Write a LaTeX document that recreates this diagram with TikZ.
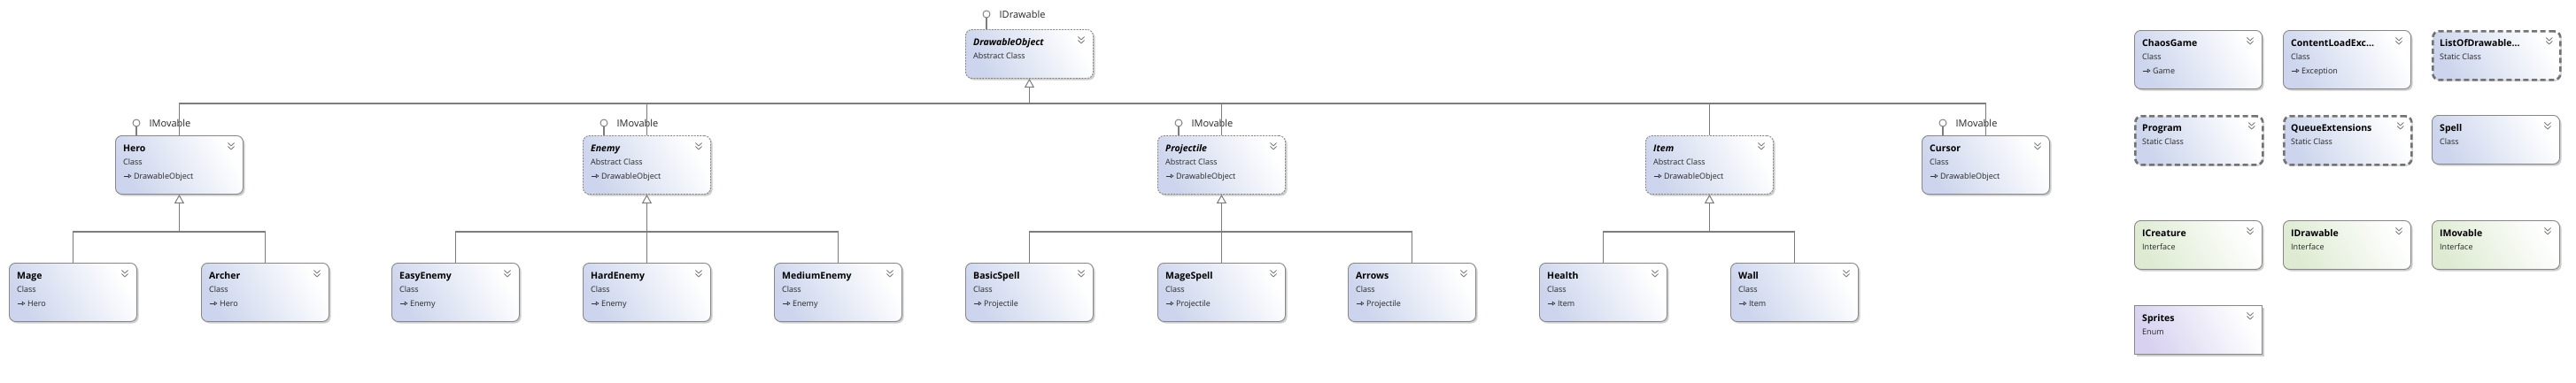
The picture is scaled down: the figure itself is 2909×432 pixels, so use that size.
\documentclass[tikz,border=0pt]{standalone}
\usepackage{fontspec}
\setmainfont{Open Sans}
\usetikzlibrary{arrows.meta}
\definecolor{cblue}{RGB}{204,213,237}
\definecolor{cgreen}{RGB}{222,235,210}
\definecolor{cpurple}{RGB}{216,210,240}
\definecolor{bordc}{RGB}{135,135,135}
\definecolor{linec}{RGB}{125,125,125}
\definecolor{shadc}{RGB}{205,205,205}
\definecolor{chevc}{RGB}{120,120,120}
\tikzset{
  boxbase/.style={rectangle, rounded corners=7pt, draw=bordc, line width=0.9pt,
    minimum width=144pt, inner sep=0pt, anchor=north west,
    top color=white, bottom color=cblue, shading angle=-60},
  classbox/.style={boxbase},
  abstractbox/.style={boxbase, dash pattern=on 2pt off 1.3pt},
  staticbox/.style={boxbase, line width=2.6pt, draw=black!55, dash pattern=on 6pt off 3.6pt},
  ifacebox/.style={boxbase, top color=white, bottom color=cgreen, shading angle=-60},
  enumbox/.style={boxbase, rounded corners=0pt, top color=white, bottom color=cpurple, shading angle=-60},
  roundshadow/.style={fill=shadc, rounded corners=7pt},
  squareshadow/.style={fill=shadc},
  titlef/.style={anchor=base west, inner sep=0pt, font=\fontsize{10.5}{12}\selectfont\bfseries},
  subf/.style={anchor=base west, inner sep=0pt, text=black!85, font=\fontsize{9}{11}\selectfont},
  lolf/.style={anchor=base west, inner sep=0pt, text=black!85, font=\fontsize{11}{13}\selectfont},
  lollic/.style={circle, draw=linec, fill=white, minimum size=8pt, inner sep=0pt, line width=0.9pt},
  chev/.style={draw=chevc, line width=0.8pt},
  gen/.style={draw=linec, line width=1.3pt},
  genarrow/.style={gen, -{Triangle[fill=white, length=10pt, width=11pt, line width=1pt]}},
  inhmark/.style={draw=black!80, line width=0.6pt, -{Triangle[open, length=3.6pt, width=4.6pt, line width=0.6pt]}}
}
\newcommand\inh{\tikz[baseline=-3pt]{\draw[inhmark] (0pt,0pt) -- (9pt,0pt);}}
\newcommand\chevr[1]{%
  \draw[chev] ([shift={(-17.5pt,-8.5pt)}]#1.north east) -- ++(3.6pt,-3.4pt) -- ++(3.6pt,3.4pt);
  \draw[chev] ([shift={(-17.5pt,-12.5pt)}]#1.north east) -- ++(3.6pt,-3.4pt) -- ++(3.6pt,3.4pt);}
% three-line box: name, style, shadow style, x, y, title, subtitle, parent
\newcommand\boxthree[8]{%
  \fill[#3] (#4+2.5,#5+2.5) rectangle (#4+146.5,#5+68.5);
  \node[#2, minimum height=66pt] (#1) at (#4,#5) {};
  \node[titlef] (#1t) at ([shift={(9pt,-18pt)}]#1.north west) {#6};
  \node[subf] (#1s) at ([shift={(9pt,-33pt)}]#1.north west) {#7};
  \node[subf] (#1p) at ([shift={(9pt,-49pt)}]#1.north west) {\inh\ #8};
  \chevr{#1}}
% two-line box: name, style, shadow style, x, y, title, subtitle
\newcommand\boxtwo[7]{%
  \fill[#3] (#4+2.5,#5+2.5) rectangle (#4+146.5,#5+57.5);
  \node[#2, minimum height=55pt] (#1) at (#4,#5) {};
  \node[titlef] (#1t) at ([shift={(9pt,-18pt)}]#1.north west) {#6};
  \node[subf] (#1s) at ([shift={(9pt,-33pt)}]#1.north west) {#7};
  \chevr{#1}}
% lollipop: box name, label, circle y
\newcommand\lolly[3]{%
  \coordinate (#1lp) at ([xshift=24pt]#1.north west);
  \node[lollic] (#1c) at (#1lp |- 0,#3) {};
  \draw[gen, line width=1.1pt] (#1c.south) -- (#1lp);
  \node[lolf] (#1l) at ([shift={(10pt,-4pt)}]#1c.east) {#2};}
\begin{document}
\begin{tikzpicture}[x=1pt, y=-1pt]
\useasboundingbox (0,0) rectangle (2909,432);
\fill[white] (0,0) rectangle (2909,432);
% top level
\boxtwo{DrawableObject}{abstractbox}{roundshadow}{1090}{33}{\itshape DrawableObject}{Abstract Class}
\boxthree{Hero}{classbox}{roundshadow}{130}{153}{Hero}{Class}{DrawableObject}
\boxthree{Enemy}{abstractbox}{roundshadow}{658}{153}{\itshape Enemy}{Abstract Class}{DrawableObject}
\boxthree{Projectile}{abstractbox}{roundshadow}{1307}{153}{\itshape Projectile}{Abstract Class}{DrawableObject}
\boxthree{Item}{abstractbox}{roundshadow}{1858}{153}{\itshape Item}{Abstract Class}{DrawableObject}
\boxthree{Cursor}{classbox}{roundshadow}{2170}{153}{Cursor}{Class}{DrawableObject}
% bottom level
\boxthree{Mage}{classbox}{roundshadow}{10}{297}{Mage}{Class}{Hero}
\boxthree{Archer}{classbox}{roundshadow}{227}{297}{Archer}{Class}{Hero}
\boxthree{EasyEnemy}{classbox}{roundshadow}{442}{297}{EasyEnemy}{Class}{Enemy}
\boxthree{HardEnemy}{classbox}{roundshadow}{658}{297}{HardEnemy}{Class}{Enemy}
\boxthree{MediumEnemy}{classbox}{roundshadow}{874}{297}{MediumEnemy}{Class}{Enemy}
\boxthree{BasicSpell}{classbox}{roundshadow}{1090}{297}{BasicSpell}{Class}{Projectile}
\boxthree{MageSpell}{classbox}{roundshadow}{1307}{297}{MageSpell}{Class}{Projectile}
\boxthree{Arrows}{classbox}{roundshadow}{1522}{297}{Arrows}{Class}{Projectile}
\boxthree{Health}{classbox}{roundshadow}{1738}{297}{Health}{Class}{Item}
\boxthree{Wall}{classbox}{roundshadow}{1954}{297}{Wall}{Class}{Item}
% right column
\boxthree{ChaosGame}{classbox}{roundshadow}{2410}{34}{ChaosGame}{Class}{Game}
\boxthree{ContentLoad}{classbox}{roundshadow}{2578}{34}{ContentLoadExc...}{Class}{Exception}
\boxtwo{ListOfDrawable}{staticbox}{roundshadow}{2746}{34}{ListOfDrawable...}{Static Class}
\boxtwo{Program}{staticbox}{roundshadow}{2410}{130}{Program}{Static Class}
\boxtwo{QueueExtensions}{staticbox}{roundshadow}{2578}{130}{QueueExtensions}{Static Class}
\boxtwo{Spell}{classbox}{roundshadow}{2746}{130}{Spell}{Class}
\boxtwo{ICreature}{ifacebox}{roundshadow}{2410}{249}{ICreature}{Interface}
\boxtwo{IDrawable}{ifacebox}{roundshadow}{2578}{249}{IDrawable}{Interface}
\boxtwo{IMovable}{ifacebox}{roundshadow}{2746}{249}{IMovable}{Interface}
\boxtwo{Sprites}{enumbox}{squareshadow}{2410}{345}{Sprites}{Enum}
% lollipops
\lolly{DrawableObject}{IDrawable}{16}
\lolly{Hero}{IMovable}{139}
\lolly{Enemy}{IMovable}{139}
\lolly{Projectile}{IMovable}{139}
\lolly{Cursor}{IMovable}{139}
% inheritance connectors
\coordinate (bus) at (0,117);
\coordinate (br) at (0,262);
\draw[gen] (Hero.north) |- (Cursor.north |- bus) -- (Cursor.north);
\draw[gen] (Enemy.north) -- (Enemy.north |- bus);
\draw[gen] (Projectile.north) -- (Projectile.north |- bus);
\draw[gen] (Item.north) -- (Item.north |- bus);
\draw[genarrow] (DrawableObject.south |- bus) -- (DrawableObject.south);
% Hero group
\draw[gen] (Mage.north) |- (Archer.north |- br) -- (Archer.north);
\draw[genarrow] (Hero.south |- br) -- (Hero.south);
% Enemy group
\draw[gen] (EasyEnemy.north) |- (MediumEnemy.north |- br) -- (MediumEnemy.north);
\draw[genarrow] (HardEnemy.north) -- (Enemy.south);
% Projectile group
\draw[gen] (BasicSpell.north) |- (Arrows.north |- br) -- (Arrows.north);
\draw[genarrow] (MageSpell.north) -- (Projectile.south);
% Item group
\draw[gen] (Health.north) |- (Wall.north |- br) -- (Wall.north);
\draw[genarrow] (Item.south |- br) -- (Item.south);
\end{tikzpicture}
\end{document}
